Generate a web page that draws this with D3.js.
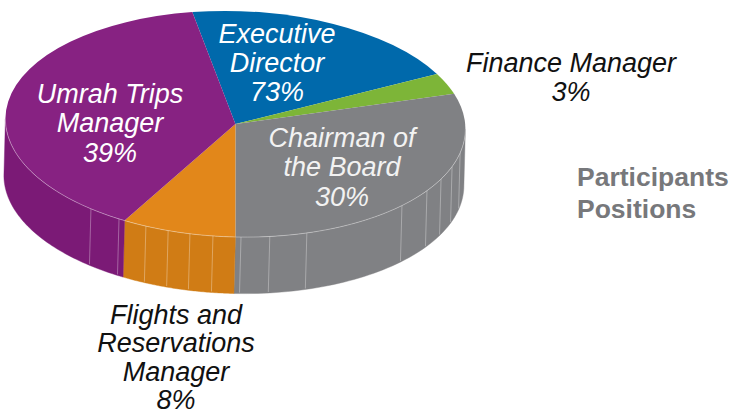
<!DOCTYPE html>
<html><head><meta charset="utf-8">
<script src="https://cdn.jsdelivr.net/npm/d3@7"></script>
<style>html,body{margin:0;padding:0;background:#fff}svg{display:block}text{font-family:"Liberation Sans",Arial,sans-serif}</style>
</head><body><script>
const categories=["Executive Director","Finance Manager","Chairman of the Board","Flights and Reservations Manager","Umrah Trips Manager"];
const sliceShares=[20,3,30,8,39];
const topColors=["#0069ab","#7db538","#808184","#e2871a","#872282"];
const wallColors=["#0069ab","#7db538","#808184","#d07c15","#7b1a76"];
const labelLines=[["Executive","Director","73%"],["Finance Manager","3%"],["Chairman of","the Board","30%"],["Flights and","Reservations","Manager","8%"],["Umrah Trips","Manager","39%"]];
const labelColors=["#fff","#111","#f2f2f2","#111","#fff"];
const labelCentres=[[277,43],[571,72],[342,147],[176,323.5],[110,103]];
const labelSpacing=[29,29,29.3,28.5,29.3];
const seamDegrees=[102.3,109.6,116.6,123.6,133.6,161.9,171.4,178.6,185.6,191.4,197,202.9,210.4,218.9];
const titleLines=["Participants","Positions"];

const W=736,H=411,cx=235.4,cy=124,rx=230,ry=113,tilt=5,depth=56.5,shift=-1.5;
const svg=d3.select("body").append("svg").attr("width",W).attr("height",H);
const rad=d3.scaleLinear().domain([0,360]).range([0,2*Math.PI]);
const start=rad(-10.8);
const pie=d3.pie().sort(null).startAngle(start).endAngle(start+2*Math.PI);
const arcs=pie(sliceShares);
const px=(a,b=0)=>cx+b*shift+rx*Math.sin(a), py=(a,b=0)=>cy+b*depth-ry*Math.cos(a)+tilt*Math.sin(a);
const line=d3.line();

// side wall
const vis=[rad(90),rad(270)];
arcs.forEach((d,i)=>{
  const a0=Math.max(d.startAngle,vis[0]),a1=Math.min(d.endAngle,vis[1]);
  if(a1<=a0)return;
  const ang=d3.range(0,61).map(k=>a0+(a1-a0)*k/60);
  const pts=ang.map(a=>[px(a),py(a)]).concat(ang.slice().reverse().map(a=>[px(a,1),py(a,1)]));
  svg.append("path").attr("d",line(pts)+"Z").attr("fill",wallColors[i]).attr("stroke",wallColors[i]).attr("stroke-width",.4);
});
// wall seams
svg.selectAll("line.seam").data(seamDegrees).join("line").attr("class","seam")
  .attr("x1",d=>px(rad(d))).attr("y1",d=>py(rad(d)))
  .attr("x2",d=>px(rad(d),1)).attr("y2",d=>py(rad(d),1)-1)
  .attr("stroke","#fff").attr("stroke-opacity",.32).attr("stroke-width",1);
// top face (unit-100 pie, sheared to the tilted ellipse)
const g=svg.append("g").attr("transform",`matrix(${rx/100},${tilt/100},0,${ry/100},${cx},${cy})`);
const arc=d3.arc().innerRadius(0).outerRadius(100);
g.selectAll("path").data(arcs).join("path").attr("d",arc).attr("fill",(d,i)=>topColors[i]);
// rim highlight
const rimAng=d3.range(0,121).map(k=>vis[0]+(vis[1]-vis[0])*k/120);
svg.append("path").attr("d",line(rimAng.map(a=>[px(a),py(a)]))).attr("fill","none")
  .attr("stroke","#fff").attr("stroke-opacity",.38).attr("stroke-width",.9);
// labels
labelLines.forEach((lines,i)=>{
  svg.append("text").attr("text-anchor","middle").attr("font-style","italic").attr("font-size",27)
    .attr("fill",labelColors[i])
    .selectAll("tspan").data(lines).join("tspan")
    .attr("x",labelCentres[i][0]).attr("y",(d,k)=>labelCentres[i][1]+k*labelSpacing[i]).text(d=>d);
});
// title
svg.append("text").attr("font-weight","bold").attr("font-size",26.5).attr("fill","#77787b")
  .selectAll("tspan").data(titleLines).join("tspan")
  .attr("x",577).attr("y",(d,k)=>186+k*32).text(d=>d);
</script></body></html>
